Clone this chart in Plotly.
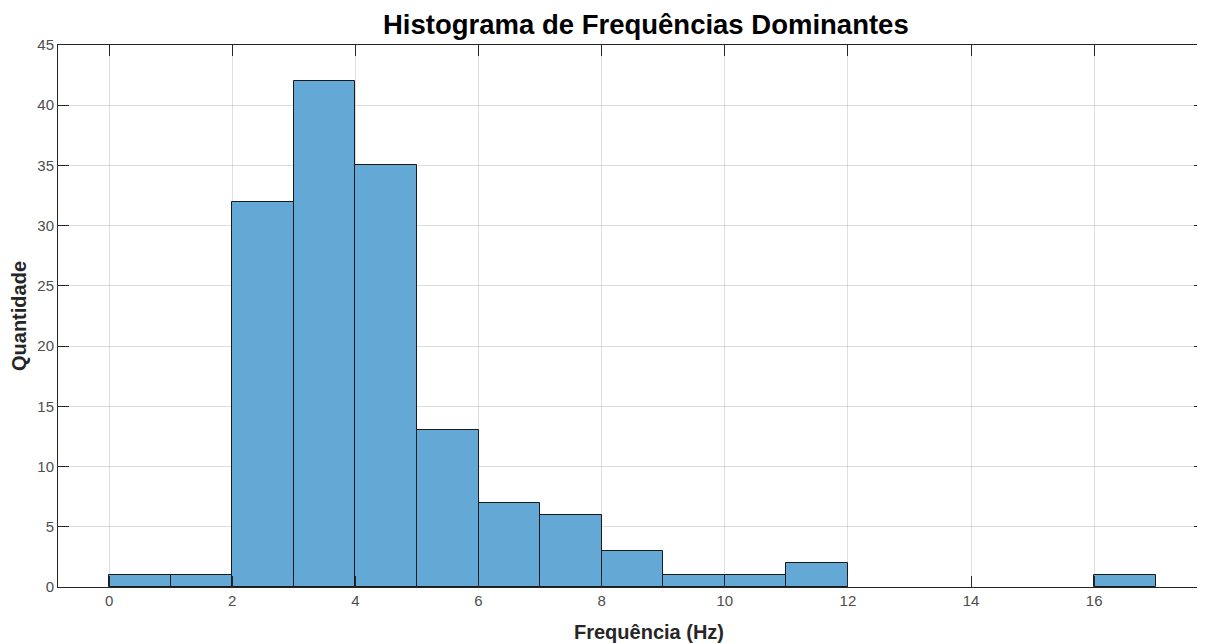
import plotly.graph_objects as go

# bordas esquerdas das classes (largura 1 Hz) e contagens
bin_left = [0, 1, 2, 3, 4, 5, 6, 7, 8, 9, 10, 11, 12, 13, 14, 15, 16]
contagens = [1, 1, 32, 42, 35, 13, 7, 6, 3, 1, 1, 2, 0, 0, 0, 0, 1]
x_ticks = [0, 2, 4, 6, 8, 10, 12, 14, 16]
y_ticks = [0, 5, 10, 15, 20, 25, 30, 35, 40, 45]

fonte = 'Liberation Sans, Arial'

fig = go.Figure(
    go.Bar(
        x=bin_left,
        y=contagens,
        width=1,
        offset=0,
        marker=dict(
            color='rgb(100,169,214)',
            line=dict(color='#1a1a1a', width=[1 if c > 0 else 0 for c in contagens]),
        ),
    )
)

eixo = dict(
    showline=True, linecolor='#262626', linewidth=1, mirror='ticks',
    ticks='inside', ticklen=11, tickcolor='#262626', tickwidth=1,
    showgrid=True, gridcolor='rgba(0,0,0,0.13)', gridwidth=1,
    zeroline=False, automargin=False,
    tickfont=dict(family=fonte, size=15, color='#4d4d4d'),
)

# a página tem margem de 8px no body, por isso a figura é 8px menor
fig.update_layout(
    width=1197, height=635,
    paper_bgcolor='white', plot_bgcolor='white',
    margin=dict(l=50, r=0, t=37, b=56),
    showlegend=False,
    bargap=0,
    title=dict(
        text='<b>Histograma de Frequências Dominantes</b>',
        xref='paper', x=0.5125, xanchor='center', yref='container', y=0.975, yanchor='middle',
        font=dict(family=fonte, size=27.5, color='black'),
    ),
    xaxis=dict(eixo, range=[-0.83, 17.8], tickvals=x_ticks),
    yaxis=dict(
        eixo, range=[0, 45], tickvals=y_ticks,
        title=dict(text='<b>Quantidade</b>', standoff=5,
                   font=dict(family=fonte, size=20, color='#262626')),
    ),
    annotations=[dict(
        text='<b>Frequência (Hz)</b>', showarrow=False,
        xref='paper', x=0.515, xanchor='center',
        yref='paper', y=0, yshift=-45, yanchor='middle',
        font=dict(family=fonte, size=20, color='#262626'),
    )],
)

fig.write_html('out.html')
